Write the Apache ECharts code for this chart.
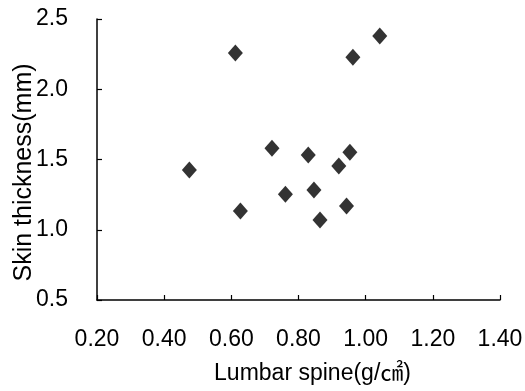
<!DOCTYPE html>
<html>
<head>
<meta charset="utf-8">
<script src="https://cdn.jsdelivr.net/npm/echarts@6/dist/echarts.min.js"></script>
<style>
  html, body { margin: 0; padding: 0; background: #fff; }
  #chart { width: 525px; height: 391px; }
</style>
</head>
<body>
<div id="chart"></div>
<script>
// lumbar spine BMD (g/cm2) vs skin thickness (mm)
const bmd = [0.475, 0.612, 0.627, 0.721, 0.761, 0.829, 0.846, 0.864, 0.920, 0.943, 0.953, 0.962, 1.042]
const skin = [1.425, 2.258, 1.133, 1.580, 1.252, 1.532, 1.283, 1.069, 1.454, 1.169, 1.551, 2.227, 2.379]

const xTicks = [0.2, 0.4, 0.6, 0.8, 1.0, 1.2, 1.4]
const yTicks = [0.5, 1.0, 1.5, 2.0, 2.5]

const Font = "'Liberation Sans', Arial, 'Noto Sans CJK KR', sans-serif"

const points = bmd.map((x, i) => [x, skin[i]])

const chart = echarts.init(document.getElementById('chart'))

chart.setOption({
  animation: false,
  grid: {
    left: 97,
    right: 25,
    top: 19,
    bottom: 91,
    containLabel: false,
    outerBoundsMode: 'none'
  },
  xAxis: {
    type: 'value',
    min: xTicks[0],
    max: xTicks[xTicks.length - 1],
    interval: 0.2,
    name: 'Lumbar spine(g/㎠)',
    nameLocation: 'middle',
    nameGap: 62,
    nameMoveOverlap: false,
    nameTextStyle: {
      color: '#000',
      fontFamily: Font,
      fontSize: 23,
      padding: [0, 0, 0, 28]
    },
    axisLine: {
      lineStyle: { color: '#000', width: 1.5 }
    },
    axisTick: {
      inside: true,
      length: 5,
      lineStyle: { color: '#000', width: 1.2 }
    },
    axisLabel: {
      color: '#000',
      fontFamily: Font,
      fontSize: 23,
      margin: 28,
      formatter: v => v.toFixed(2)
    },
    splitLine: { show: false }
  },
  yAxis: {
    type: 'value',
    min: yTicks[0],
    max: yTicks[yTicks.length - 1],
    interval: 0.5,
    name: 'Skin thickness(mm)',
    nameLocation: 'middle',
    nameGap: 60,
    nameMoveOverlap: false,
    nameTextStyle: {
      color: '#000',
      fontFamily: Font,
      fontSize: 25,
      padding: [0, 26, 0, 0]
    },
    axisLine: {
      lineStyle: { color: '#000', width: 1.5 }
    },
    axisTick: {
      inside: true,
      length: 5,
      lineStyle: { color: '#000', width: 1.2 }
    },
    axisLabel: {
      color: '#000',
      fontFamily: Font,
      fontSize: 23,
      margin: 29,
      formatter: v => v.toFixed(1)
    },
    splitLine: { show: false }
  },
  series: [
    {
      type: 'scatter',
      symbol: 'diamond',
      symbolSize: [15, 17],
      itemStyle: { color: '#000' },
      data: points
    }
  ]
})
</script>
</body>
</html>
